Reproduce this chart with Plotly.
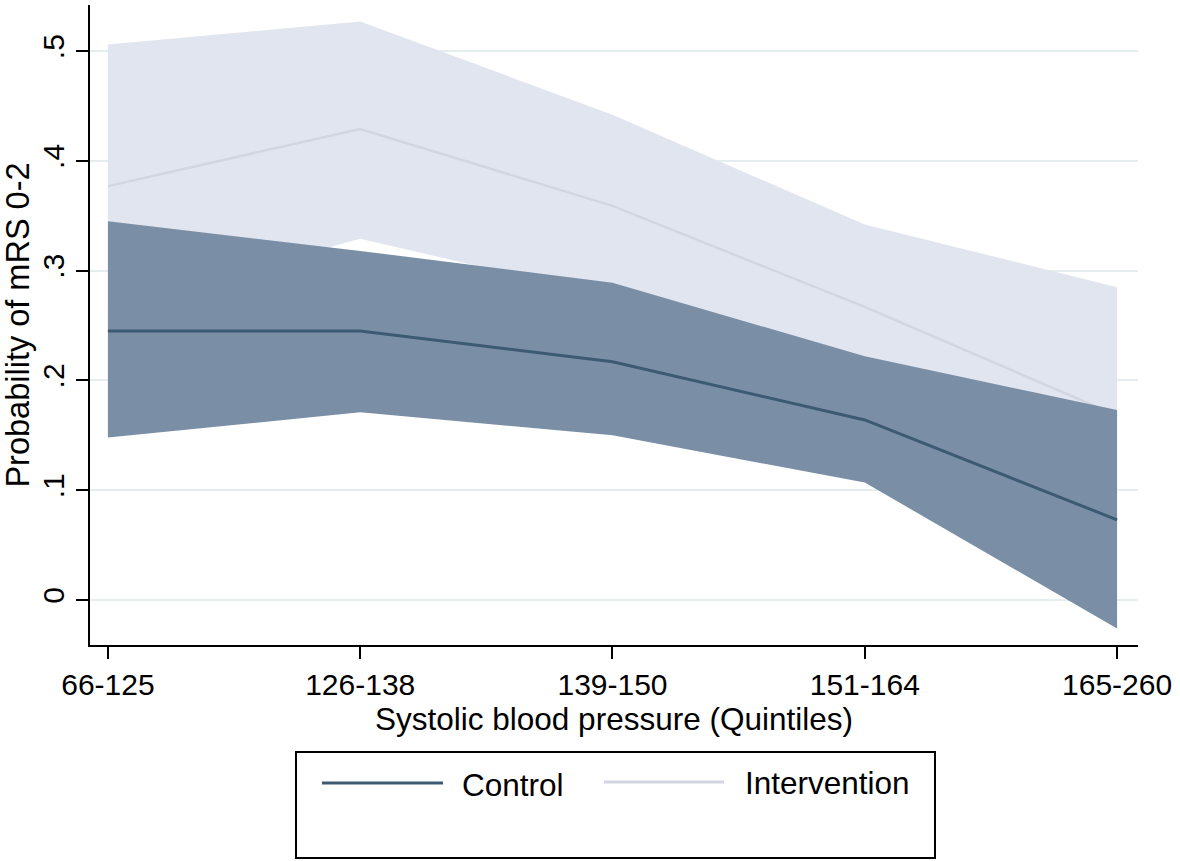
import plotly.graph_objects as go

categories = ["66-125", "126-138", "139-150", "151-164", "165-260"]
x_pos = [0, 1, 2, 3, 4]

control_mean = [0.245, 0.245, 0.217, 0.164, 0.073]
control_lower = [0.148, 0.171, 0.150, 0.107, -0.026]
control_upper = [0.345, 0.318, 0.289, 0.222, 0.173]

interv_mean = [0.377, 0.429, 0.359, 0.267, 0.168]
interv_lower = [0.266, 0.329, 0.276, 0.190, 0.050]
interv_upper = [0.506, 0.527, 0.442, 0.342, 0.285]

y_tickvals = [0, 0.1, 0.2, 0.3, 0.4, 0.5]
y_ticktext = ["0", ".1", ".2", ".3", ".4", ".5"]

C_FILL = "#7A8FA6"
C_LINE = "#3D5A73"
I_FILL = "#E1E5F0"
I_LINE = "#D2D6E0"
FONT = "Liberation Sans, Arial, sans-serif"

fig = go.Figure()

# Intervention band + line
fig.add_trace(go.Scatter(x=x_pos, y=interv_lower, mode="lines", line=dict(width=0, color=I_FILL),
                         showlegend=False, hoverinfo="skip"))
fig.add_trace(go.Scatter(x=x_pos, y=interv_upper, mode="lines", line=dict(width=0, color=I_FILL),
                         fill="tonexty", fillcolor=I_FILL, showlegend=False, hoverinfo="skip"))
fig.add_trace(go.Scatter(x=x_pos, y=interv_mean, mode="lines", line=dict(width=2.5, color=I_LINE),
                         name="Intervention", showlegend=False))

# Control band + line
fig.add_trace(go.Scatter(x=x_pos, y=control_lower, mode="lines", line=dict(width=0, color=C_FILL),
                         showlegend=False, hoverinfo="skip"))
fig.add_trace(go.Scatter(x=x_pos, y=control_upper, mode="lines", line=dict(width=0, color=C_FILL),
                         fill="tonexty", fillcolor=C_FILL, showlegend=False, hoverinfo="skip"))
fig.add_trace(go.Scatter(x=x_pos, y=control_mean, mode="lines", line=dict(width=3, color=C_LINE),
                         name="Control", showlegend=False))

fig.update_layout(
    width=1180, height=861,
    margin=dict(l=90, r=42, t=5, b=216),
    paper_bgcolor="white", plot_bgcolor="white",
    font=dict(family=FONT, size=30, color="black"),
    showlegend=False,
)

fig.update_xaxes(
    range=[-0.071, 4.083],
    tickvals=x_pos, ticktext=categories,
    showgrid=False, zeroline=False,
    showline=True, linecolor="black", linewidth=2,
    ticks="outside", ticklen=12, tickwidth=2, tickcolor="black",
    tickfont=dict(size=30),
    title=dict(text="Systolic blood pressure (Quintiles)", font=dict(size=31.5), standoff=2),
)
fig.update_yaxes(
    range=[-0.041, 0.542],
    tickvals=y_tickvals, ticktext=y_ticktext,
    tickangle=-90,
    showgrid=True, gridcolor="#E6EDEF", gridwidth=2, zeroline=False,
    showline=True, linecolor="black", linewidth=2,
    ticks="outside", ticklen=12, tickwidth=2, tickcolor="black",
    tickfont=dict(size=30),
    title=dict(text="Probability of mRS 0-2", font=dict(size=32.5), standoff=4),
)

# Manual legend box (Stata style)
def px_x(p):
    return (p - 90) / 1048.0

def px_y(p):
    return (645 - p) / 640.0

fig.add_shape(type="rect", xref="paper", yref="paper",
              x0=px_x(296), x1=px_x(935), y0=px_y(858), y1=px_y(752),
              line=dict(color="black", width=2), fillcolor="rgba(0,0,0,0)")
fig.add_shape(type="line", xref="paper", yref="paper",
              x0=px_x(322), x1=px_x(443), y0=px_y(783), y1=px_y(783),
              line=dict(color=C_LINE, width=3))
fig.add_shape(type="line", xref="paper", yref="paper",
              x0=px_x(604), x1=px_x(724), y0=px_y(782), y1=px_y(782),
              line=dict(color=I_LINE, width=3))
fig.add_annotation(xref="paper", yref="paper", x=px_x(460), y=px_y(785),
                   text="Control", showarrow=False, xanchor="left", yanchor="middle",
                   font=dict(size=31.5))
fig.add_annotation(xref="paper", yref="paper", x=px_x(743), y=px_y(783),
                   text="Intervention", showarrow=False, xanchor="left", yanchor="middle",
                   font=dict(size=31.5))

fig.write_html("out.html")
